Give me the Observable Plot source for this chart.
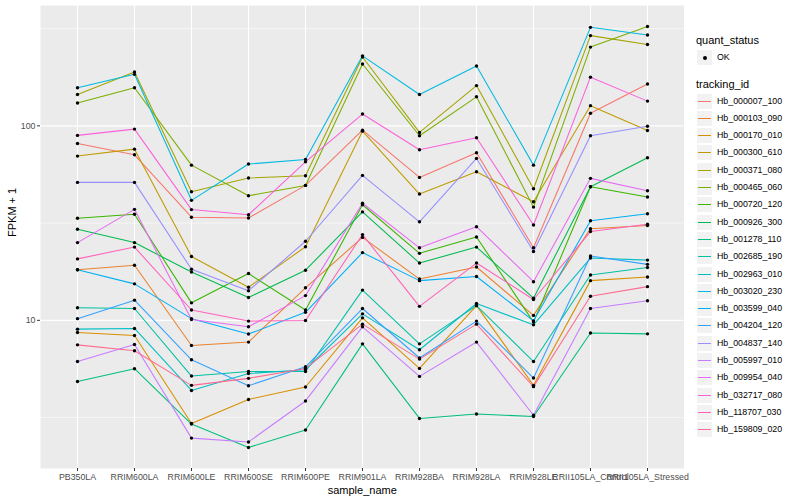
<!DOCTYPE html>
<html>
<head>
<meta charset="utf-8">
<script src="https://cdn.jsdelivr.net/npm/d3@7"></script>
<script src="https://cdn.jsdelivr.net/npm/@observablehq/plot@0.6"></script>
<style>
  html, body { margin: 0; padding: 0; background: #ffffff; }
  #wrap { position: relative; width: 800px; height: 500px; font-family: "Liberation Sans", Arial, Helvetica, sans-serif; }
  #legend { position: absolute; left: 0; top: 0; width: 800px; height: 500px; pointer-events: none; }
  .lg-title { position: absolute; font-size: 11px; color: #000; line-height: 1; }
  .lg-key { position: absolute; width: 17px; height: 17px; background: #F2F2F2; box-sizing: border-box; border: 1px solid #ffffff; }
  .lg-label { position: absolute; font-size: 8.8px; color: #000; line-height: 1; }
</style>
</head>
<body>
<div id="wrap"><div id="chart"></div><div id="legend"></div></div>
<script>
// ---- data ----
const samples = ["PB350LA","RRIM600LA","RRIM600LE","RRIM600SE","RRIM600PE","RRIM901LA","RRIM928BA","RRIM928LA","RRIM928LE","RRII105LA_Control","RRII105LA_Stressed"];

const trackingIds = ["Hb_000007_100","Hb_000103_090","Hb_000170_010","Hb_000300_610","Hb_000371_080","Hb_000465_060","Hb_000720_120","Hb_000926_300","Hb_001278_110","Hb_002685_190","Hb_002963_010","Hb_003020_230","Hb_003599_040","Hb_004204_120","Hb_004837_140","Hb_005997_010","Hb_009954_040","Hb_032717_080","Hb_118707_030","Hb_159809_020"];

// FPKM + 1, one row per tracking id (same order), one value per sample
const fpkmPlusOne = [
  [81.2, 71.0, 33.9, 33.6, 49.4, 95.0, 54.3, 72.7, 23.6, 116, 164],
  [18.2, 19.2, 7.42, 7.73, 14.7, 26.7, 16.3, 18.8, 10.6, 29.6, 30.7],
  [8.66, 8.36, 2.95, 3.92, 4.54, 10.3, 5.66, 11.9, 4.63, 16.0, 16.7],
  [69.9, 75.9, 21.3, 14.8, 23.9, 93.9, 44.6, 58.1, 40.7, 127, 94.7],
  [145, 189, 45.8, 53.9, 55.4, 226, 92.5, 161, 47.5, 291, 262],
  [131, 157, 62.8, 43.7, 49.4, 208, 88.9, 141, 38.2, 254, 324],
  [33.5, 35.1, 12.3, 17.4, 11.3, 39.3, 22.1, 26.8, 9.79, 48.6, 43.1],
  [29.4, 25.1, 17.7, 13.1, 18.1, 36.1, 19.7, 23.8, 13.0, 48.6, 68.5],
  [4.85, 5.64, 2.93, 2.22, 2.73, 7.57, 3.13, 3.30, 3.20, 8.60, 8.52],
  [11.6, 11.5, 5.17, 5.46, 5.46, 14.3, 7.57, 11.9, 6.14, 17.1, 18.7],
  [9.01, 9.08, 4.36, 5.33, 5.57, 10.8, 7.06, 12.2, 9.48, 20.9, 20.4],
  [157, 184, 41.4, 63.6, 67.2, 229, 145, 203, 62.8, 321, 293],
  [18.2, 15.4, 10.2, 8.50, 11.0, 22.3, 16.0, 16.8, 9.94, 32.5, 35.3],
  [10.2, 12.7, 6.27, 4.61, 5.77, 11.5, 6.40, 9.91, 5.05, 21.4, 19.4],
  [51.2, 51.2, 18.3, 14.2, 25.5, 55.6, 32.1, 68.0, 22.6, 88.9, 99.6],
  [6.14, 7.51, 2.48, 2.37, 3.85, 9.26, 5.15, 7.73, 3.25, 11.5, 12.6],
  [25.1, 37.2, 10.1, 9.26, 13.4, 40.0, 23.6, 30.3, 15.8, 53.7, 46.4],
  [89.3, 96.2, 37.1, 34.9, 65.3, 115, 75.3, 86.8, 30.9, 178, 134],
  [20.7, 23.8, 11.3, 9.91, 9.98, 27.6, 11.8, 19.7, 12.8, 28.6, 31.2],
  [7.48, 6.97, 4.63, 5.03, 5.66, 9.56, 6.32, 9.56, 4.56, 13.3, 14.9]
];

const quantStatus = ["OK"];
const yMajorTicks = [10, 100];

// ---- styles ----
const palette = ["#F8766D","#EA8331","#D89000","#C09B00","#A3A500","#7CAE00","#39B600","#00BB4E","#00BF7D","#00C1A3","#00BFC4","#00BAE0","#00B0F6","#35A2FF","#9590FF","#C77CFF","#E76BF3","#FA62DB","#FF62BC","#FF6C91"];

const rows = trackingIds.flatMap((id, i) =>
  samples.map((s, j) => ({tracking_id: id, sample_name: s, fpkm: fpkmPlusOne[i][j], quant_status: quantStatus[0]})));

// ggplot-like 5% expansion on log scale
const logs = rows.map(d => Math.log10(d.fpkm));
const lo = d3.min(logs), hi = d3.max(logs), pad = 0.05 * (hi - lo);
const yDomain = [10 ** (lo - pad), 10 ** (hi + pad)];
const yMinor = [0.5, 1.5, 2.5].map(e => 10 ** e);

const font = "'Liberation Sans', Arial, Helvetica, sans-serif";

const chart = Plot.plot({
  width: 800,
  height: 500,
  marginLeft: 40,
  marginRight: 116.5,
  marginTop: 5,
  marginBottom: 32,
  style: {fontFamily: font, background: "transparent", color: "#333333"},
  x: {type: "point", domain: samples, padding: 0.6},
  y: {type: "log", domain: yDomain},
  color: {domain: trackingIds, range: palette},
  marks: [
    Plot.frame({fill: "#EBEBEB", stroke: null}),
    Plot.gridY(yMinor, {stroke: "#ffffff", strokeOpacity: 1, strokeWidth: 0.55}),
    Plot.gridY(yMajorTicks, {stroke: "#ffffff", strokeOpacity: 1, strokeWidth: 1.1}),
    Plot.gridX({stroke: "#ffffff", strokeOpacity: 1, strokeWidth: 1.1}),
    Plot.line(rows, {x: "sample_name", y: "fpkm", z: "tracking_id", stroke: "tracking_id", strokeWidth: 1.07}),
    Plot.dot(rows, {x: "sample_name", y: "fpkm", r: 1.7, fill: "#000000", stroke: null}),
    Plot.axisX({tickSize: 3, tickPadding: 2, fontSize: 8.8, stroke: "#333333", fill: "#4D4D4D", label: null}),
    Plot.axisY(yMajorTicks, {tickSize: 3, tickPadding: 2, fontSize: 8.8, stroke: "#333333", fill: "#4D4D4D", label: null, tickFormat: d => String(d)}),
    Plot.text(["sample_name"], {frameAnchor: "bottom", dy: 22, fontSize: 11, fill: "#000000", lineAnchor: "middle"}),
    Plot.text(["FPKM + 1"], {frameAnchor: "left", dx: -28, rotate: -90, fontSize: 11, fill: "#000000", lineAnchor: "middle"})
  ]
});
document.getElementById("chart").appendChild(chart);

// ---- legend (HTML, to the right of the panel) ----
const legend = document.getElementById("legend");
function add(cls, css, text) {
  const el = document.createElement("div");
  el.className = cls;
  Object.assign(el.style, css);
  if (text != null) el.textContent = text;
  legend.appendChild(el);
  return el;
}
add("lg-title", {left: "696px", top: "35px"}, "quant_status");
const okKey = add("lg-key", {left: "696px", top: "49px"});
const dot = document.createElement("div");
Object.assign(dot.style, {position: "absolute", left: "5.5px", top: "5.5px", width: "4px", height: "4px", borderRadius: "50%", background: "#000"});
okKey.appendChild(dot);
add("lg-label", {left: "717px", top: "53px"}, quantStatus[0]);

add("lg-title", {left: "696px", top: "78.5px"}, "tracking_id");
trackingIds.forEach((id, i) => {
  const cy = 101 + 17.3 * i;
  const top = Math.round(cy - 8.5);
  const key = add("lg-key", {left: "696px", top: top + "px"});
  const ln = document.createElement("div");
  Object.assign(ln.style, {position: "absolute", left: "1px", top: "7px", width: "13px", height: "1px", background: palette[i]});
  key.appendChild(ln);
  add("lg-label", {left: "717px", top: (top + 4) + "px"}, id);
});
</script>
</body>
</html>
